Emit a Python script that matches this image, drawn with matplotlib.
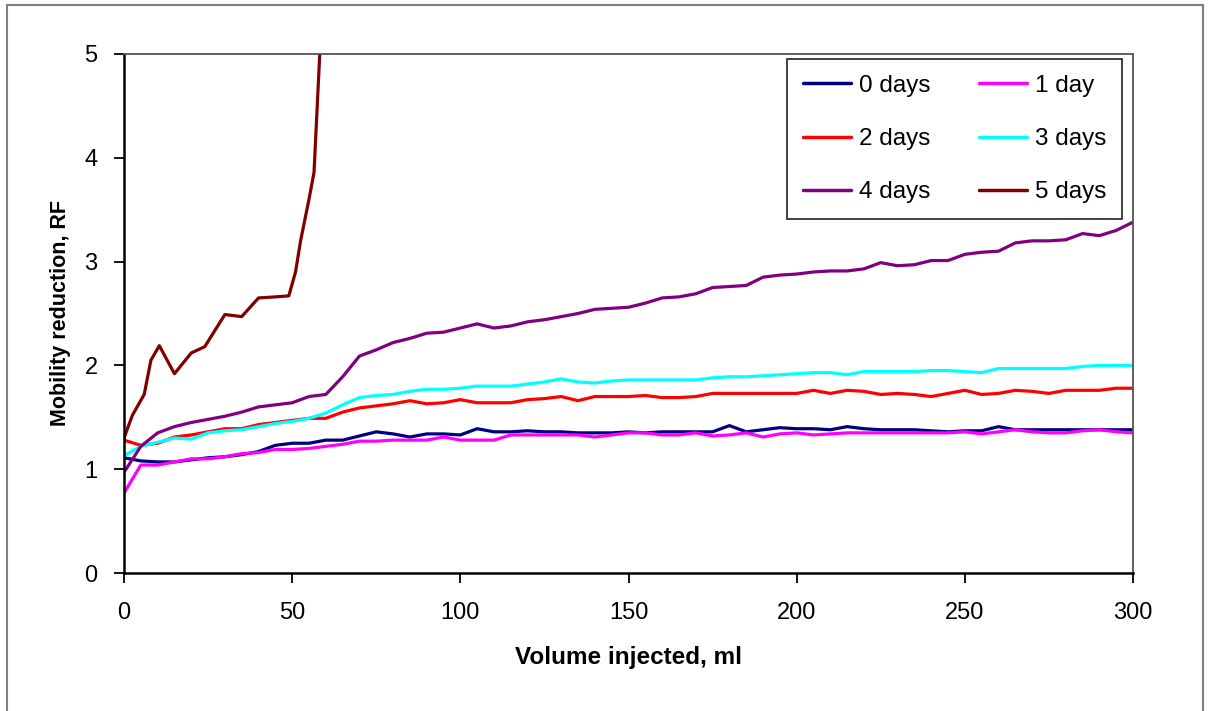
import numpy as np
import matplotlib
matplotlib.use("Agg")
import matplotlib.pyplot as plt
from matplotlib.patches import Rectangle

plt.rcParams['font.family'] = ['Liberation Sans', 'DejaVu Sans']

# injected volume, ml (5 ml steps)
volume = list(range(0, 301, 5))

rf_0days = [1.11, 1.08, 1.07, 1.07, 1.09, 1.11, 1.12, 1.14, 1.17, 1.23, 1.25, 1.25, 1.28, 1.28,
            1.32, 1.36, 1.34, 1.31, 1.34, 1.34, 1.33, 1.39, 1.36, 1.36, 1.37, 1.36, 1.36, 1.35,
            1.35, 1.35, 1.36, 1.35, 1.36, 1.36, 1.36, 1.36, 1.42, 1.36, 1.38, 1.40, 1.39, 1.39,
            1.38, 1.41, 1.39, 1.38, 1.38, 1.38, 1.37, 1.36, 1.37, 1.37, 1.41, 1.38, 1.38, 1.38,
            1.38, 1.38, 1.38, 1.38, 1.38]
rf_1day = [0.77, 1.04, 1.04, 1.07, 1.10, 1.10, 1.12, 1.15, 1.16, 1.19, 1.19, 1.20, 1.22, 1.24,
           1.27, 1.27, 1.28, 1.28, 1.28, 1.31, 1.28, 1.28, 1.28, 1.33, 1.33, 1.33, 1.33, 1.33,
           1.31, 1.33, 1.35, 1.35, 1.33, 1.33, 1.35, 1.32, 1.33, 1.35, 1.31, 1.34, 1.35, 1.33,
           1.34, 1.35, 1.35, 1.35, 1.35, 1.35, 1.35, 1.35, 1.36, 1.34, 1.36, 1.38, 1.36, 1.35,
           1.35, 1.37, 1.38, 1.36, 1.35]
rf_2days = [1.28, 1.23, 1.25, 1.31, 1.33, 1.36, 1.39, 1.39, 1.43, 1.45, 1.47, 1.49, 1.49, 1.55,
            1.59, 1.61, 1.63, 1.66, 1.63, 1.64, 1.67, 1.64, 1.64, 1.64, 1.67, 1.68, 1.70, 1.66,
            1.70, 1.70, 1.70, 1.71, 1.69, 1.69, 1.70, 1.73, 1.73, 1.73, 1.73, 1.73, 1.73, 1.76,
            1.73, 1.76, 1.75, 1.72, 1.73, 1.72, 1.70, 1.73, 1.76, 1.72, 1.73, 1.76, 1.75, 1.73,
            1.76, 1.76, 1.76, 1.78, 1.78]
rf_3days = [1.13, 1.22, 1.26, 1.30, 1.29, 1.35, 1.37, 1.38, 1.41, 1.44, 1.46, 1.49, 1.54, 1.62,
            1.69, 1.71, 1.72, 1.75, 1.77, 1.77, 1.78, 1.80, 1.80, 1.80, 1.82, 1.84, 1.87, 1.84,
            1.83, 1.85, 1.86, 1.86, 1.86, 1.86, 1.86, 1.88, 1.89, 1.89, 1.90, 1.91, 1.92, 1.93,
            1.93, 1.91, 1.94, 1.94, 1.94, 1.94, 1.95, 1.95, 1.94, 1.93, 1.97, 1.97, 1.97, 1.97,
            1.97, 1.99, 2.00, 2.00, 2.00]
rf_4days = [0.97, 1.22, 1.35, 1.41, 1.45, 1.48, 1.51, 1.55, 1.60, 1.62, 1.64, 1.70, 1.72, 1.89,
            2.09, 2.15, 2.22, 2.26, 2.31, 2.32, 2.36, 2.40, 2.36, 2.38, 2.42, 2.44, 2.47, 2.50,
            2.54, 2.55, 2.56, 2.60, 2.65, 2.66, 2.69, 2.75, 2.76, 2.77, 2.85, 2.87, 2.88, 2.90,
            2.91, 2.91, 2.93, 2.99, 2.96, 2.97, 3.01, 3.01, 3.07, 3.09, 3.10, 3.18, 3.20, 3.20,
            3.21, 3.27, 3.25, 3.30, 3.38]

# 5 days blocks quickly, measured only over the first ~60 ml
volume_5days = [0, 2.5, 6, 8, 10.5, 15, 20, 24, 30, 35, 40, 45, 49, 51, 52.5, 55, 56.5, 58.2, 60]
rf_5days = [1.30, 1.52, 1.72, 2.05, 2.19, 1.92, 2.12, 2.18, 2.49, 2.47, 2.65, 2.66, 2.67, 2.90,
            3.20, 3.60, 3.86, 5.00, 6.00]

series = [
    ("0 days", volume, rf_0days, "#000080"),
    ("1 day", volume, rf_1day, "#FF00FF"),
    ("2 days", volume, rf_2days, "#FF0000"),
    ("3 days", volume, rf_3days, "#00FFFF"),
    ("4 days", volume, rf_4days, "#800080"),
    ("5 days", volume_5days, rf_5days, "#800000"),
]

fig = plt.figure(figsize=(12.11, 7.11), dpi=100)
ax = fig.add_axes([124 / 1211, 1 - 573 / 711, (1133 - 124) / 1211, (573 - 54) / 711])

for label, xs, ys, color in series:
    ax.plot(xs, ys, color=color, lw=2.3, label=label, solid_joinstyle="round",
            solid_capstyle="round")

ax.set_xlim(0, 300)
ax.set_ylim(0, 5)
ax.set_xticks(range(0, 301, 50))
ax.set_yticks(range(0, 6))
ax.tick_params(direction="out", length=7, width=1.3, labelsize=17, pad=14, color="black")
ax.tick_params(axis="y", pad=12)

for side in ["left", "bottom"]:
    ax.spines[side].set_color("black")
    ax.spines[side].set_linewidth(1.8)
for side in ["top", "right"]:
    ax.spines[side].set_color("#555555")
    ax.spines[side].set_linewidth(1.3)

ax.set_xlabel("Volume injected, ml", fontsize=17.5, fontweight="bold", labelpad=16)
ax.set_ylabel("Mobility reduction, RF", fontsize=15.5, fontweight="bold", labelpad=10)

# legend filled row by row: 0/1, 2/3, 4/5 days
handles, labels = ax.get_legend_handles_labels()
order = [0, 2, 4, 1, 3, 5]
leg = ax.legend([handles[i] for i in order], [labels[i] for i in order], ncol=2,
                loc="upper right", bbox_to_anchor=(0.989, 0.99), borderaxespad=0,
                fontsize=17.5, frameon=True, fancybox=False, handlelength=2.0,
                handletextpad=0.3, columnspacing=2.0, labelspacing=1.28, borderpad=0.65)
leg.get_frame().set_edgecolor("black")
leg.get_frame().set_linewidth(1.3)
for line in leg.get_lines():
    line.set_linewidth(2.5)

# outer frame around the whole chart
fig.add_artist(Rectangle((7 / 1211, -0.02), 1196 / 1211, 1.02 - 5 / 711,
                         transform=fig.transFigure, fill=False, edgecolor="#7f7f7f", lw=1.5))

fig.savefig("out.png", dpi=100)
